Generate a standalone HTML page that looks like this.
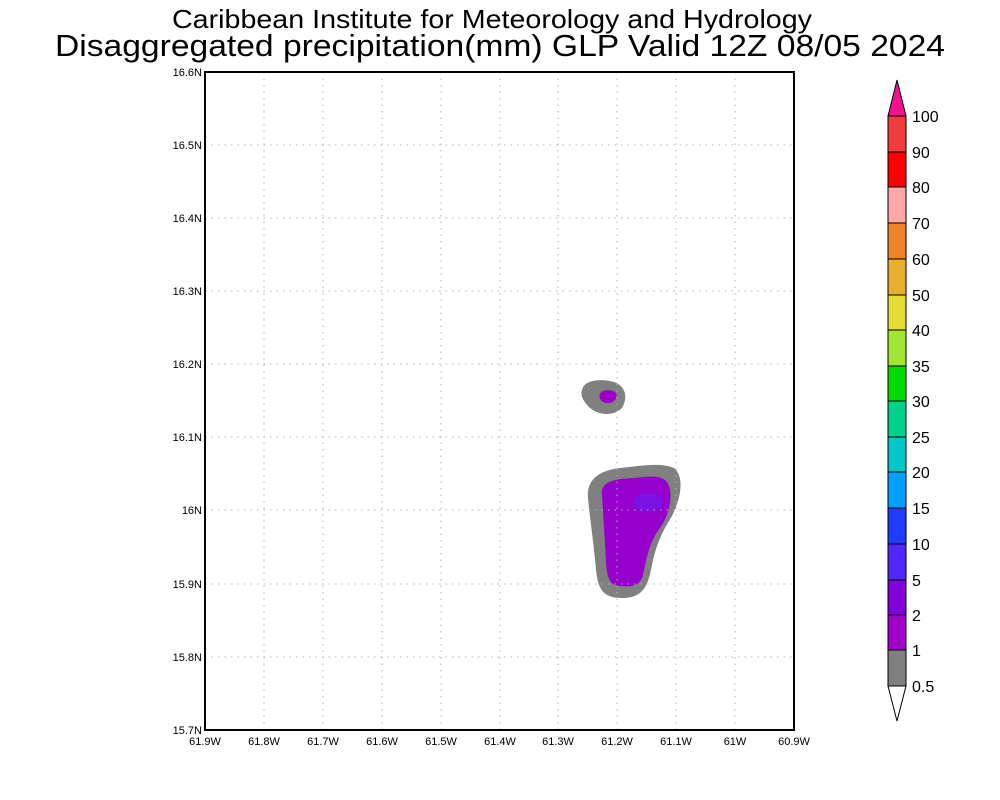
<!DOCTYPE html>
<html><head><style>body{margin:0;background:#fff}svg{display:block}</style></head><body>
<svg width="1000" height="800" xmlns="http://www.w3.org/2000/svg" font-family="Liberation Sans, sans-serif">
<rect width="1000" height="800" fill="#fff"/>
<text x="172" y="28" font-size="26" textLength="640" lengthAdjust="spacingAndGlyphs">Caribbean Institute for Meteorology and Hydrology</text>
<text x="55" y="56" font-size="31" textLength="890" lengthAdjust="spacingAndGlyphs">Disaggregated precipitation(mm) GLP Valid 12Z 08/05 2024</text>
<!-- blobs -->
<path d="M582,390 C584,380 600,378 614,382 C626,386 628,398 622,408 C614,416 600,416 590,408 C584,402 580,396 582,390 Z" fill="#808080"/>
<path d="M600,394 C602,389 612,389 616,393 C618,398 614,403 608,403 C602,403 598,399 600,394 Z" fill="#9a00c8"/>
<path d="M588,498 C586,478 602,470 620,468 C640,466 660,462 674,468 C684,476 682,496 672,516 C662,532 656,545 652,565 C648,585 644,598 622,598 C602,598 598,588 596,570 C594,545 590,520 588,498 Z" fill="#808080"/>
<path d="M602,495 C600,482 614,479 632,478 C648,477 660,474 667,482 C674,492 670,514 660,528 C650,540 646,560 643,575 C640,586 632,587 620,586 C610,586 607,578 606,562 C605,540 603,515 602,495 Z" fill="#9600cc"/>
<ellipse cx="648" cy="502" rx="15" ry="9" fill="#7a14e6"/>
<!-- grid -->
<g stroke="#b4b4b4" stroke-width="1" stroke-dasharray="1.5,5">
<line x1="264" y1="72" x2="264" y2="730"/><line x1="323" y1="72" x2="323" y2="730"/><line x1="382" y1="72" x2="382" y2="730"/><line x1="441" y1="72" x2="441" y2="730"/><line x1="500" y1="72" x2="500" y2="730"/><line x1="558" y1="72" x2="558" y2="730"/><line x1="617" y1="72" x2="617" y2="730"/><line x1="676" y1="72" x2="676" y2="730"/><line x1="735" y1="72" x2="735" y2="730"/>
<line x1="205" y1="145" x2="794" y2="145"/><line x1="205" y1="218" x2="794" y2="218"/><line x1="205" y1="291" x2="794" y2="291"/><line x1="205" y1="364" x2="794" y2="364"/><line x1="205" y1="437" x2="794" y2="437"/><line x1="205" y1="510" x2="794" y2="510"/><line x1="205" y1="584" x2="794" y2="584"/><line x1="205" y1="657" x2="794" y2="657"/>
</g>
<rect x="205" y="72" width="589" height="658" fill="none" stroke="#000" stroke-width="2"/>
<g font-size="11" text-anchor="end">
<text x="202" y="76">16.6N</text><text x="202" y="149">16.5N</text><text x="202" y="222">16.4N</text><text x="202" y="295">16.3N</text><text x="202" y="368">16.2N</text><text x="202" y="441">16.1N</text><text x="202" y="514">16N</text><text x="202" y="588">15.9N</text><text x="202" y="661">15.8N</text><text x="202" y="734">15.7N</text>
</g>
<g font-size="11" text-anchor="middle">
<text x="205" y="745">61.9W</text><text x="264" y="745">61.8W</text><text x="323" y="745">61.7W</text><text x="382" y="745">61.6W</text><text x="441" y="745">61.5W</text><text x="500" y="745">61.4W</text><text x="558" y="745">61.3W</text><text x="617" y="745">61.2W</text><text x="676" y="745">61.1W</text><text x="735" y="745">61W</text><text x="794" y="745">60.9W</text>
</g>
<!-- colorbar -->
<g stroke="#000" stroke-width="1">
<polygon points="888,116 906,116 897,80" fill="#f0148c"/>
<rect x="888" y="116" width="18" height="36" fill="#f03c3c"/>
<rect x="888" y="152" width="18" height="35" fill="#ff0000"/>
<rect x="888" y="187" width="18" height="36" fill="#ffa8a8"/>
<rect x="888" y="223" width="18" height="36" fill="#f08228"/>
<rect x="888" y="259" width="18" height="36" fill="#e6af2d"/>
<rect x="888" y="295" width="18" height="35" fill="#e6dc32"/>
<rect x="888" y="330" width="18" height="36" fill="#a0e632"/>
<rect x="888" y="366" width="18" height="35" fill="#00dc00"/>
<rect x="888" y="401" width="18" height="36" fill="#00d28c"/>
<rect x="888" y="437" width="18" height="35" fill="#00c8c8"/>
<rect x="888" y="472" width="18" height="36" fill="#00a0ff"/>
<rect x="888" y="508" width="18" height="36" fill="#1e3cff"/>
<rect x="888" y="544" width="18" height="36" fill="#5028ff"/>
<rect x="888" y="580" width="18" height="35" fill="#8200dc"/>
<rect x="888" y="615" width="18" height="35" fill="#a000c8"/>
<rect x="888" y="650" width="18" height="36" fill="#808080"/>
<polygon points="888,686 906,686 897,721" fill="#fff"/>
</g>
<g font-size="16">
<text x="912" y="122">100</text><text x="912" y="158">90</text><text x="912" y="193">80</text><text x="912" y="229">70</text><text x="912" y="265">60</text><text x="912" y="301">50</text><text x="912" y="336">40</text><text x="912" y="372">35</text><text x="912" y="407">30</text><text x="912" y="443">25</text><text x="912" y="478">20</text><text x="912" y="514">15</text><text x="912" y="550">10</text><text x="912" y="586">5</text><text x="912" y="621">2</text><text x="912" y="656">1</text><text x="912" y="692">0.5</text>
</g>
</svg>
</body></html>
